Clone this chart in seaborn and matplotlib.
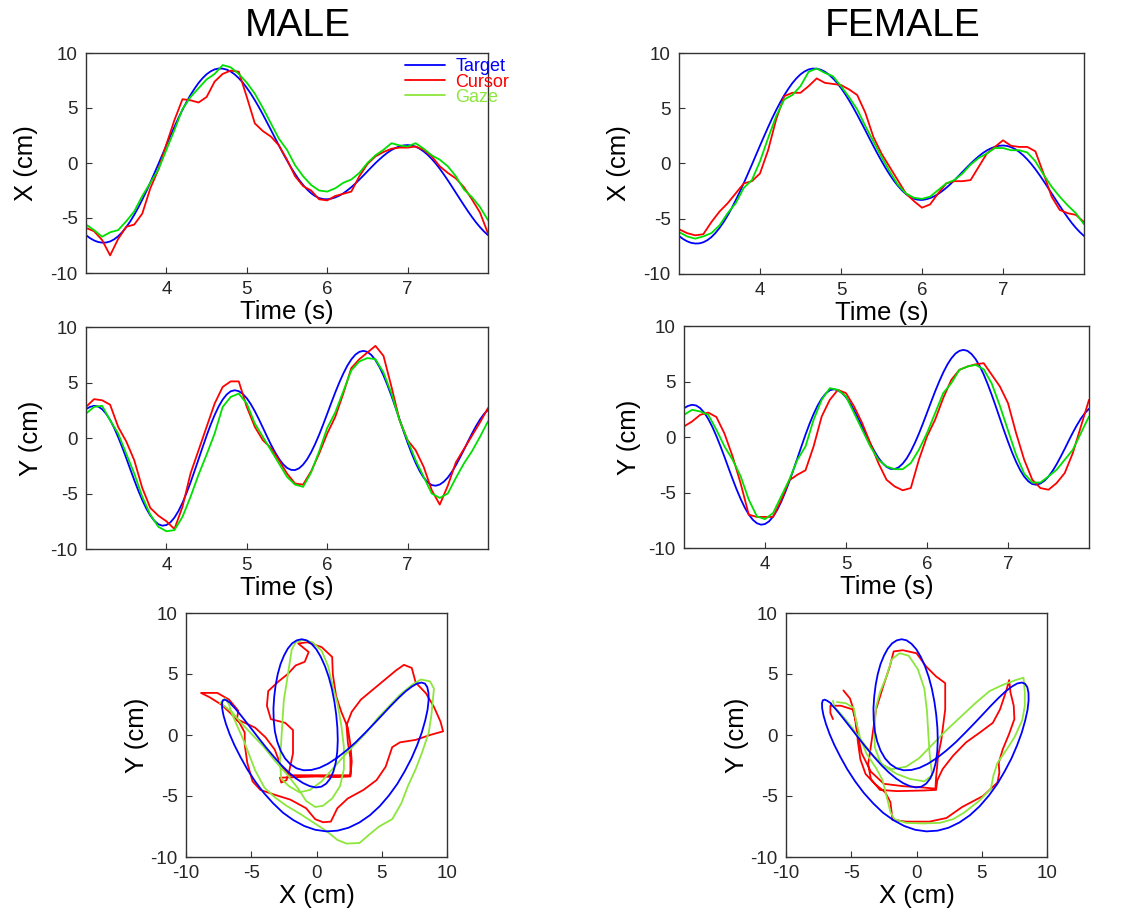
import numpy as np
import matplotlib
matplotlib.use('Agg')
import matplotlib.pyplot as plt
from matplotlib.lines import Line2D
import seaborn as sns

# --- DATOS ---
# objetivo: muestreo cada 0.05 s entre 3 y 8 s (igual para ambos sujetos)
t_target = np.round(np.linspace(3.0, 8.0, 101), 2)
target_x = [-6.56, -6.83, -7.04, -7.18, -7.24, -7.23, -7.13, -6.94, -6.66, -6.29,
            -5.83, -5.31, -4.71, -4.05, -3.33, -2.58, -1.77, -0.94, -0.10, 0.76,
            1.62, 2.46, 3.29, 4.09, 4.84, 5.54, 6.19, 6.76, 7.28, 7.71,
            8.07, 8.33, 8.51, 8.59, 8.58, 8.49, 8.31, 8.05, 7.71, 7.31,
            6.83, 6.30, 5.71, 5.08, 4.41, 3.71, 3.01, 2.29, 1.58, 0.89,
            0.23, -0.41, -0.99, -1.53, -2.00, -2.41, -2.75, -3.01, -3.19, -3.28,
            -3.30, -3.24, -3.13, -2.97, -2.76, -2.49, -2.20, -1.87, -1.51, -1.14,
            -0.76, -0.38, -0.01, 0.33, 0.65, 0.94, 1.18, 1.37, 1.51, 1.60,
            1.63, 1.59, 1.48, 1.30, 1.05, 0.74, 0.37, -0.05, -0.52, -1.03,
            -1.57, -2.13, -2.70, -3.27, -3.83, -4.38, -4.90, -5.39, -5.83, -6.22,
            -6.56]
target_y = [2.60, 2.80, 2.90, 2.84, 2.60, 2.19, 1.62, 0.91, 0.08, -0.83,
            -1.80, -2.80, -3.79, -4.73, -5.59, -6.36, -6.98, -7.46, -7.77, -7.90,
            -7.84, -7.60, -7.17, -6.58, -5.84, -4.97, -4.01, -2.97, -1.91, -0.84,
            0.21, 1.19, 2.07, 2.84, 3.46, 3.92, 4.21, 4.30, 4.22, 3.97,
            3.58, 3.05, 2.41, 1.69, 0.93, 0.16, -0.59, -1.27, -1.87, -2.35,
            -2.69, -2.87, -2.89, -2.73, -2.40, -1.92, -1.29, -0.54, 0.30, 1.22,
            2.18, 3.15, 4.10, 4.99, 5.80, 6.51, 7.08, 7.51, 7.76, 7.85,
            7.76, 7.47, 7.02, 6.40, 5.64, 4.75, 3.78, 2.74, 1.67, 0.60,
            -0.42, -1.38, -2.24, -2.98, -3.57, -3.99, -4.24, -4.30, -4.19, -3.94,
            -3.56, -3.06, -2.46, -1.78, -1.07, -0.33, 0.39, 1.06, 1.66, 2.16,
            2.54]

# cursor y mirada: muestreo cada 0.1 s
t_sample = np.round(np.linspace(3.0, 8.0, 51), 2)
male_x_cursor = [-5.9, -6.2, -7.0, -8.4, -6.9, -5.8, -5.6, -4.6, -2.3, -0.6,
                 1.7, 3.9, 5.8, 5.7, 5.5, 6.0, 7.4, 8.1, 8.4, 8.3,
                 6.0, 3.6, 2.9, 2.4, 1.6, 0.3, -1.2, -2.1, -2.5, -3.3,
                 -3.4, -3.0, -2.8, -2.6, -1.2, -0.1, 0.6, 1.0, 1.3, 1.4,
                 1.4, 1.5, 1.2, 0.6, -0.3, -0.9, -1.4, -2.2, -3.3, -4.5,
                 -6.4]
male_x_gaze = [-5.6, -6.1, -6.7, -6.3, -6.1, -5.3, -4.4, -3.0, -1.8, -0.6,
               1.2, 3.0, 4.9, 6.0, 6.8, 7.6, 8.1, 8.9, 8.7, 8.1,
               7.3, 6.3, 5.0, 3.6, 2.2, 1.2, -0.2, -1.2, -2.0, -2.5,
               -2.6, -2.3, -1.8, -1.5, -0.9, 0.0, 0.7, 1.2, 1.8, 1.6,
               1.5, 1.8, 1.3, 0.7, 0.3, -0.3, -1.2, -2.4, -3.1, -4.0,
               -5.2]
male_y_cursor = [2.8, 3.5, 3.4, 3.0, 1.0, -0.3, -2.0, -4.5, -6.3, -7.0,
                 -7.5, -8.2, -6.2, -3.2, -1.1, 1.0, 3.1, 4.6, 5.1, 5.1,
                 2.8, 1.0, -0.2, -0.9, -2.0, -3.2, -4.1, -4.2, -3.0, -1.4,
                 0.4, 1.9, 4.0, 6.3, 7.1, 7.7, 8.3, 7.4, 4.6, 1.6,
                 -0.2, -1.1, -2.6, -4.7, -6.0, -4.3, -2.2, -1.0, 0.2, 1.4,
                 2.7]
male_y_gaze = [2.2, 2.8, 2.9, 1.6, 0.4, -1.4, -3.2, -5.3, -6.9, -8.0,
               -8.4, -8.3, -7.1, -5.3, -3.3, -1.5, 0.4, 2.8, 3.7, 4.0,
               3.1, 1.3, 0.1, -1.1, -2.3, -3.5, -4.2, -4.4, -3.1, -1.2,
               0.9, 2.3, 4.2, 6.1, 6.9, 7.2, 7.1, 5.9, 4.0, 1.6,
               -0.2, -2.0, -3.5, -5.0, -5.4, -5.0, -3.6, -2.3, -1.2, 0.1,
               1.5]
female_x_cursor = [-5.95, -6.3, -6.5, -6.4, -5.3, -4.35, -3.6, -2.7, -1.8, -1.6,
                   -0.9, 1.2, 4.0, 6.1, 6.4, 6.4, 7.0, 7.7, 7.3, 7.2,
                   7.1, 6.7, 6.2, 4.6, 2.4, 0.9, -0.3, -1.5, -2.7, -3.4,
                   -4.0, -3.7, -2.7, -1.8, -1.6, -1.6, -1.5, -0.3, 0.9, 1.5,
                   2.1, 1.6, 1.5, 1.5, 1.1, -0.9, -3.0, -4.2, -4.5, -4.65,
                   -5.3]
female_x_gaze = [-6.2, -6.6, -6.8, -6.6, -6.3, -5.6, -4.5, -3.6, -2.2, -1.5,
                 0.2, 2.3, 4.3, 5.8, 6.2, 7.0, 8.3, 8.6, 8.2, 7.9,
                 7.0, 6.0, 4.9, 3.4, 2.0, 0.6, -0.7, -1.9, -2.7, -3.1,
                 -3.2, -3.0, -2.4, -1.8, -1.5, -0.9, -0.1, 0.5, 0.9, 1.4,
                 1.4, 1.2, 1.2, 1.0, 0.2, -1.0, -2.1, -3.0, -3.8, -4.5,
                 -5.5]
female_y_cursor = [0.95, 1.4, 2.0, 2.2, 1.8, 0.3, -1.75, -4.2, -7.0, -7.2,
                   -7.2, -7.2, -5.7, -3.9, -3.4, -3.0, -0.85, 1.85, 3.35, 4.25,
                   3.95, 2.75, 1.25, -0.55, -2.35, -3.85, -4.45, -4.8, -4.6, -2.05,
                   0.05, 1.55, 3.5, 5.15, 6.05, 6.35, 6.55, 6.65, 5.6, 4.55,
                   3.05, 0.35, -2.05, -3.85, -4.6, -4.75, -4.15, -3.25, -1.45, 0.95,
                   3.35]
female_y_gaze = [2.0, 2.45, 2.3, 2.0, 0.65, -0.85, -2.05, -3.55, -5.65, -7.15,
                 -7.4, -6.85, -5.35, -3.85, -2.05, -0.85, 1.55, 3.35, 4.4, 4.25,
                 3.65, 2.15, 0.65, -0.85, -2.05, -2.65, -2.9, -2.9, -2.35, -1.15,
                 0.35, 2.15, 3.95, 4.85, 6.05, 6.35, 6.5, 6.1, 4.8, 2.8,
                 0.6, -1.6, -3.3, -4.1, -4.1, -3.55, -2.95, -2.05, -1.15, 0.35,
                 1.85]

# trayectorias X-Y de cursor y mirada
male_xy_cursor_x = [-6.1, -6.0, -6.7, -7.6, -8.85, -8.2, -7.3, -6.6, -5.9, -5.5,
                    -5.5, -5.3, -4.9, -4.3, -3.2, -2.0, -0.8, -0.1, 0.5, 1.1,
                    1.6, 2.4, 3.6, 4.6, 5.3, 5.8, 6.4, 7.6, 8.7, 9.7,
                    9.5, 9.0, 8.4, 7.6, 7.3, 6.7, 6.1, 5.2, 4.3, 3.4,
                    2.7, 2.3, 2.4, 2.6, 2.6, 1.5, 0.0, -1.4, -2.8, -2.7,
                    -2.3, -2.1, -1.8, -1.8, -2.4, -3.5, -3.8, -3.7, -2.9, -2.2,
                    -1.6, -0.9, -0.6, -1.4, -0.7, 0.4, 1.2, 1.25, 1.5, 1.9,
                    2.4, 2.6, 2.7, 2.6, 1.2, -0.5, -2.0, -2.7, -3.2, -3.9,
                    -4.7, -5.5, -6.1]
male_xy_cursor_y = [1.2, 2.0, 2.9, 3.45, 3.45, 3.1, 2.5, 1.8, 1.0, 0.2,
                    -0.8, -2.3, -3.8, -4.5, -4.9, -5.3, -6.0, -6.9, -7.15, -7.1,
                    -6.0, -5.2, -4.5, -3.7, -2.6, -1.0, -0.6, -0.4, 0.0, 0.3,
                    1.1, 2.3, 3.4, 4.3, 5.5, 5.75, 5.3, 4.5, 3.7, 2.9,
                    1.9, 0.8, -0.6, -1.9, -3.4, -3.45, -3.4, -3.45, -3.5, -3.9,
                    -3.7, -3.0, -1.5, 0.4, 1.0, 1.3, 2.4, 3.6, 4.4, 5.0,
                    5.7, 6.0, 6.8, 7.5, 7.6, 7.2, 6.4, 5.0, 3.2, 1.9,
                    0.6, -0.8, -2.2, -3.3, -3.3, -3.3, -3.3, -2.6, -1.2, -0.2,
                    0.6, 1.0, 1.3]
male_xy_gaze_x = [-7.4, -7.0, -6.7, -6.5, -6.1, -5.6, -5.2, -4.7, -4.0, -3.2,
                  -2.3, -1.2, -0.2, 0.8, 1.6, 2.3, 3.3, 4.0, 4.8, 5.8,
                  6.5, 7.0, 7.6, 8.1, 8.6, 8.8, 8.9, 9.0, 8.7, 8.0,
                  7.3, 6.4, 5.6, 4.7, 3.9, 3.1, 2.2, 1.3, 0.4, -0.5,
                  -1.3, -2.1, -2.7, -2.8, -2.7, -2.6, -2.5, -2.3, -2.1, -1.9,
                  -1.6, -1.0, -0.3, 0.4, 0.9, 1.2, 1.6, 1.9, 2.1, 2.1,
                  1.8, 1.2, 0.5, -0.1, -0.8, -1.4, -2.2, -3.2, -4.1, -4.9,
                  -5.7, -6.5, -7.2]
male_xy_gaze_y = [2.6, 3.0, 2.5, 1.8, 0.8, -0.4, -1.5, -2.9, -4.3, -5.1,
                  -5.8, -6.5, -7.2, -7.9, -8.6, -8.9, -8.85, -8.2, -7.5, -6.9,
                  -5.6, -4.2, -2.8, -1.4, 0.2, 1.6, 2.7, 3.8, 4.4, 4.55,
                  4.1, 3.3, 2.4, 1.4, 0.3, -0.6, -1.6, -2.7, -3.8, -4.5,
                  -4.7, -4.2, -3.6, -2.2, -0.5, 1.3, 2.9, 4.2, 5.6, 7.0,
                  7.6, 7.8, 7.6, 6.9, 5.6, 4.2, 2.6, 0.8, -1.0, -2.8,
                  -4.2, -5.2, -5.8, -5.9, -5.4, -4.4, -3.3, -2.1, -0.9, 0.0,
                  0.9, 1.9, 2.5]
female_xy_cursor_x = [-6.4, -6.6, -6.6, -5.8, -4.9, -4.6, -4.5, -4.3, -3.9, -3.2,
                      -2.4, -2.0, -1.9, -1.85, -0.8, 1.0, 2.3, 3.5, 5.1, 6.2,
                      6.35, 6.3, 6.6, 7.1, 7.5, 7.45, 7.2, 7.1, 6.9, 6.4,
                      5.85, 4.85, 3.8, 2.8, 2.0, 1.6, 1.5, 0.5, -1.5, -2.8,
                      -3.5, -3.7, -3.4, -3.1, -2.55, -2.05, -1.75, -1.05, 0.0, 0.75,
                      1.5, 2.2, 2.2, 1.9, 1.65, 1.5, 1.45, 0.5, -1.0, -2.5,
                      -3.5, -4.2, -4.6, -4.8, -5.1, -5.6]
female_xy_cursor_y = [1.3, 1.8, 2.4, 2.4, 2.1, 1.0, -0.5, -2.0, -3.2, -4.0,
                      -4.7, -5.5, -6.4, -6.95, -7.1, -7.1, -6.8, -5.9, -5.0, -3.9,
                      -3.1, -2.3, -1.2, 0.1, 1.3, 2.4, 3.5, 4.5, 3.7, 2.1,
                      1.0, 0.2, -0.6, -1.7, -2.8, -3.7, -4.5, -4.55, -4.6, -4.5,
                      -3.6, -2.4, -0.2, 2.1, 4.0, 5.6, 6.85, 6.95, 6.7, 5.6,
                      4.8, 4.25, 2.1, -0.4, -1.75, -3.5, -4.4, -4.3, -4.2, -4.0,
                      -3.0, -1.5, 0.5, 2.0, 3.0, 3.65]
female_xy_gaze_x = [-6.1, -5.4, -4.8, -4.6, -4.3, -3.8, -3.1, -2.6, -2.3, -2.0,
                    -1.7, -0.8, 0.5, 1.8, 2.8, 3.6, 4.8, 5.7, 5.9, 6.2,
                    6.9, 7.5, 8.1, 8.3, 8.3, 8.2, 7.6, 6.6, 5.6, 4.5,
                    3.4, 2.3, 1.2, 0.2, -0.8, -1.9, -2.7, -3.2, -3.2, -3.1,
                    -2.8, -2.3, -1.9, -1.3, -0.6, 0.1, 0.6, 0.8, 0.9, 1.0,
                    1.2, 0.6, -0.5, -1.5, -2.4, -3.3, -4.2, -5.0, -5.7, -6.3,
                    -6.4]
female_xy_gaze_y = [2.7, 2.6, 2.2, 1.0, -0.3, -1.6, -2.7, -3.7, -5.0, -6.3,
                    -6.9, -7.2, -7.25, -7.2, -6.9, -6.4, -5.4, -4.4, -3.3, -2.3,
                    -1.2, -0.2, 1.2, 2.4, 3.5, 4.7, 4.5, 4.1, 3.6, 2.6,
                    1.5, 0.4, -0.8, -1.9, -2.6, -2.8, -2.4, -1.0, 0.8, 2.3,
                    3.5, 4.8, 6.2, 6.7, 6.5, 5.4, 3.8, 2.0, 0.2, -1.5,
                    -3.3, -3.8, -3.6, -3.2, -2.6, -1.7, -0.5, 0.7, 1.6, 2.3,
                    2.8]

labels_series = ['Target', 'Cursor', 'Gaze']
color_target = '#0000ff'
color_cursor = '#ff0000'
color_gaze_t = '#00e000'
color_gaze_xy = '#8ce63c'

# --- ESTILO ---
sns.set_style('white')
plt.rcParams['font.family'] = ['Liberation Sans', 'DejaVu Sans']
plt.rcParams['axes.unicode_minus'] = False
plt.rcParams['axes.edgecolor'] = '#333333'
plt.rcParams['axes.linewidth'] = 1.0

fig = plt.figure(figsize=(11.33, 9.21), dpi=100)
W, H = 1133, 921


def add_ax(left, top, right, bottom):
    return fig.add_axes([left / W, 1 - bottom / H, (right - left) / W, (bottom - top) / H])


def estilo(ax, xlabel, ylabel, xticks, xlim, ypad):
    ax.set_xlim(*xlim)
    ax.set_ylim(-10, 10)
    ax.set_xticks(xticks)
    ax.set_yticks([-10, -5, 0, 5, 10])
    ax.tick_params(direction='in', length=4, width=0.8, bottom=True, left=True,
                   labelsize=13.5, colors='#333333', labelcolor='#262626', pad=6)
    ax.set_xlabel(xlabel, fontsize=18.5, labelpad=1, color='black')
    ax.set_ylabel(ylabel, fontsize=18.5, labelpad=ypad, color='black')
    for s in ax.spines.values():
        s.set_color('#333333')
        s.set_linewidth(1.0)


def panel_tiempo(ax, target, cursor, gaze, ylabel, ypad):
    sns.lineplot(x=t_target, y=target, ax=ax, color=color_target, linewidth=1.3,
                 estimator=None, sort=False, legend=False)
    sns.lineplot(x=t_sample, y=cursor, ax=ax, color=color_cursor, linewidth=1.3,
                 estimator=None, sort=False, legend=False)
    sns.lineplot(x=t_sample, y=gaze, ax=ax, color=color_gaze_t, linewidth=1.3,
                 estimator=None, sort=False, legend=False)
    estilo(ax, 'Time (s)', ylabel, [4, 5, 6, 7], (3, 8), ypad)


def panel_xy(ax, cx, cy, gx, gy):
    sns.lineplot(x=cx, y=cy, ax=ax, color=color_cursor, linewidth=1.3,
                 estimator=None, sort=False, legend=False)
    sns.lineplot(x=gx, y=gy, ax=ax, color=color_gaze_xy, linewidth=1.3,
                 estimator=None, sort=False, legend=False)
    sns.lineplot(x=target_x, y=target_y, ax=ax, color=color_target, linewidth=1.3,
                 estimator=None, sort=False, legend=False)
    estilo(ax, 'X (cm)', 'Y (cm)', [-10, -5, 0, 5, 10], (-10, 10), 1)


# MALE
ax1 = add_ax(86, 53, 488, 273)
panel_tiempo(ax1, target_x, male_x_cursor, male_x_gaze, 'X (cm)', 9)
ax3 = add_ax(86, 327, 488, 549)
panel_tiempo(ax3, target_y, male_y_cursor, male_y_gaze, 'Y (cm)', 5)
ax5 = add_ax(186, 613, 447, 857)
panel_xy(ax5, male_xy_cursor_x, male_xy_cursor_y, male_xy_gaze_x, male_xy_gaze_y)

# FEMALE
ax2 = add_ax(679, 53, 1084, 274)
panel_tiempo(ax2, target_x, female_x_cursor, female_x_gaze, 'X (cm)', 9)
ax4 = add_ax(684, 326, 1089, 548)
panel_tiempo(ax4, target_y, female_y_cursor, female_y_gaze, 'Y (cm)', 5)
ax6 = add_ax(786, 613, 1047, 857)
panel_xy(ax6, female_xy_cursor_x, female_xy_cursor_y, female_xy_gaze_x, female_xy_gaze_y)

# leyenda
handles = [Line2D([], [], color=c, linewidth=1.3)
           for c in [color_target, color_cursor, color_gaze_xy]]
leg = ax1.legend(handles, labels_series, loc='upper left', bbox_to_anchor=(0.78, 1.0),
                 frameon=False, fontsize=13, handlelength=2.2, handletextpad=0.6,
                 labelspacing=-0.1, borderaxespad=0, borderpad=0.3)
for txt, c in zip(leg.get_texts(), [color_target, color_cursor, color_gaze_xy]):
    txt.set_color(c)

fig.text(298 / W, 1 - 26 / H, 'MALE', fontsize=28, ha='center', va='center', color='black')
fig.text(903 / W, 1 - 26 / H, 'FEMALE', fontsize=28, ha='center', va='center', color='black')

fig.savefig('out.png', dpi=100)
